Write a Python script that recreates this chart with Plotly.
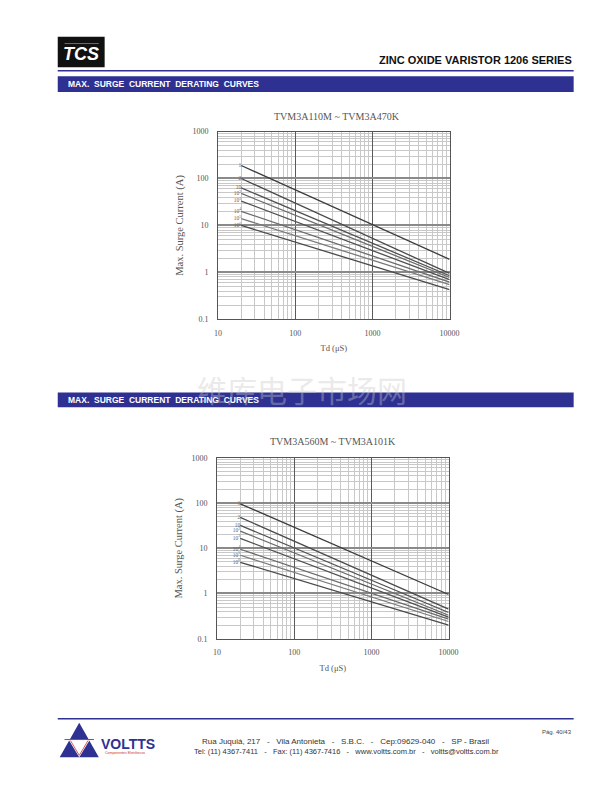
import plotly.graph_objects as go

W, H = 612, 792

# ---------------- data ----------------
TD = [20, 10000]  # pulse duration range (µs)
CURVE_LABELS = ["1", "2", "10", "10<sup>2</sup>", "10<sup>3</sup>",
                "10<sup>4</sup>", "10<sup>5</sup>", "10<sup>6</sup>"]

TOP_TITLE = "TVM3A110M ~ TVM3A470K"
TOP_START = [189, 100, 63, 48, 33, 20, 14, 10]
TOP_END = [1.9, 0.95, 0.85, 0.78, 0.70, 0.62, 0.55, 0.43]

BOT_TITLE = "TVM3A560M ~ TVM3A101K"
BOT_START = [96, 48, 32, 24, 16.5, 9.5, 7.0, 4.9]
BOT_END = [0.95, 0.45, 0.38, 0.33, 0.30, 0.27, 0.24, 0.20]

X_TICKS = [10, 100, 1000, 10000]
X_TICK_TEXT = ["10", "100", "1000", "10000"]
Y_TICKS = [0.1, 1, 10, 100, 1000]
Y_TICK_TEXT = ["0.1", "1", "10", "100", "1000"]

# ---------------- helpers ----------------
def PX(x):
    return x / W


def PY(y):
    return 1 - y / H


def minor_vals(lo_exp, hi_exp):
    out = []
    for e in range(lo_exp, hi_exp):
        for m in range(2, 10):
            out.append(m * 10 ** e)
    return out


SERIF = "Liberation Serif, Times New Roman, serif"
SANS = "Liberation Sans, Arial, sans-serif"
GRAY = "#555555"
BLUE = "#2e3192"

fig = go.Figure()

LINE_COLORS = ["#3c3c3c", "#4a4a4a", "#505050", "#6a6a6a", "#505050",
               "#6a6a6a", "#7a7a7a", "#4a4a4a"]

for (starts, ends, xa, ya) in [(TOP_START, TOP_END, "x", "y"),
                               (BOT_START, BOT_END, "x2", "y2")]:
    for i, lab in enumerate(CURVE_LABELS):
        fig.add_trace(go.Scatter(
            x=TD, y=[starts[i], ends[i]],
            mode="lines+text",
            text=[lab, ""],
            textposition="middle left",
            textfont=dict(family=SERIF, size=5.5, color="#666666"),
            line=dict(color=LINE_COLORS[i], width=1.3),
            xaxis=xa, yaxis=ya, showlegend=False, hoverinfo="skip",
        ))

def xaxis_cfg(domain, anchor):
    return dict(
        type="log", domain=domain, anchor=anchor, range=[1, 4],
        tickvals=X_TICKS, ticktext=X_TICK_TEXT,
        ticks="outside", ticklen=6, tickcolor="rgba(0,0,0,0)",
        tickfont=dict(family=SERIF, size=8, color=GRAY),
        showgrid=True, gridcolor="#5a5a5a", gridwidth=1.1,
        minor=dict(tickvals=minor_vals(1, 4), showgrid=True,
                   gridcolor="#c8c8c8", gridwidth=0.6, ticks=""),
        showline=True, linecolor="#555555", linewidth=1, mirror=True,
        zeroline=False,
        title=dict(text="Td (μS)", font=dict(family=SERIF, size=8.5, color=GRAY),
                   standoff=8),
    )


def yaxis_cfg(domain, anchor):
    return dict(
        type="log", domain=domain, anchor=anchor, range=[-1, 3],
        tickvals=Y_TICKS, ticktext=Y_TICK_TEXT,
        ticks="outside", ticklen=7, tickcolor="rgba(0,0,0,0)",
        tickfont=dict(family=SERIF, size=8, color=GRAY),
        showgrid=True, gridcolor="#8a8a8a", gridwidth=1.8,
        minor=dict(tickvals=minor_vals(-1, 3), showgrid=True,
                   gridcolor="#c8c8c8", gridwidth=0.6, ticks=""),
        showline=True, linecolor="#555555", linewidth=1, mirror=True,
        zeroline=False,
        title=dict(text="Max. Surge Current (A)",
                   font=dict(family=SERIF, size=10.5, color=GRAY), standoff=6),
    )


fig.update_layout(
    width=W, height=H,
    margin=dict(l=0, r=0, t=0, b=0, pad=0),
    paper_bgcolor="white", plot_bgcolor="white",
    xaxis=xaxis_cfg([PX(219), PX(456)], "y"),
    yaxis=yaxis_cfg([PY(319), PY(129)], "x"),
    xaxis2=xaxis_cfg([PX(218), PX(455)], "y2"),
    yaxis2=yaxis_cfg([PY(642), PY(459)], "x2"),
)

shapes = []
ann = []

# header logo (TCS)
shapes.append(dict(type="rect", xref="paper", yref="paper",
                   x0=PX(55), x1=PX(103), y0=PY(64), y1=PY(33),
                   fillcolor="#111111", line=dict(width=0)))
shapes.append(dict(type="line", xref="paper", yref="paper",
                   x0=PX(62), x1=PX(97), y0=PY(40), y1=PY(40),
                   line=dict(color="#d04040", width=1)))
ann.append(dict(text="<b><i>TCS</i></b>", x=PX(79), y=PY(51), xref="paper",
                yref="paper", showarrow=False, xanchor="center", yanchor="middle",
                font=dict(family=SANS, size=18, color="white")))

ann.append(dict(text="<b>ZINC OXIDE VARISTOR 1206 SERIES</b>", x=PX(583), y=PY(57),
                xref="paper", yref="paper", showarrow=False, xanchor="right",
                yanchor="middle", font=dict(family=SANS, size=11, color="#111111")))
shapes.append(dict(type="line", xref="paper", yref="paper",
                   x0=PX(55), x1=PX(583), y0=PY(67.5), y1=PY(67.5),
                   line=dict(color=BLUE, width=1.5)))

# section bars
for (y0, y1) in [(73, 89), (393, 408)]:
    shapes.append(dict(type="rect", xref="paper", yref="paper",
                       x0=PX(55), x1=PX(583), y0=PY(y1), y1=PY(y0),
                       fillcolor=BLUE, line=dict(width=0)))
    ann.append(dict(text="<b>MAX.  SURGE  CURRENT  DERATING  CURVES</b>",
                    x=PX(63), y=PY((y0 + y1) / 2), xref="paper", yref="paper",
                    showarrow=False, xanchor="left", yanchor="middle",
                    font=dict(family=SANS, size=8.5, color="white")))

# chart titles
ann.append(dict(text=TOP_TITLE, x=PX(341), y=PY(114), xref="paper", yref="paper",
                showarrow=False, xanchor="center", yanchor="middle",
                font=dict(family=SERIF, size=10, color=GRAY)))
ann.append(dict(text=BOT_TITLE, x=PX(337), y=PY(443), xref="paper", yref="paper",
                showarrow=False, xanchor="center", yanchor="middle",
                font=dict(family=SERIF, size=10, color=GRAY)))

# watermark
ann.append(dict(text="维库电子市场网", x=PX(305), y=PY(389), xref="paper",
                yref="paper", showarrow=False, xanchor="center", yanchor="middle",
                font=dict(family="Noto Sans CJK SC", size=30,
                          color="rgba(200,200,200,0.4)")))

# footer
shapes.append(dict(type="line", xref="paper", yref="paper",
                   x0=PX(55), x1=PX(583), y0=PY(723), y1=PY(723),
                   line=dict(color=BLUE, width=1.5)))
# VOLTTS logo
shapes.append(dict(type="path", xref="paper", yref="paper",
                   path=f"M {PX(57)} {PY(762)} L {PX(77)} {PY(727)} L {PX(97)} {PY(762)} Z",
                   fillcolor=BLUE, line=dict(width=0)))
shapes.append(dict(type="path", xref="paper", yref="paper",
                   path=f"M {PX(66)} {PY(744)} L {PX(77)} {PY(762)} L {PX(88)} {PY(744)} Z",
                   fillcolor="white", line=dict(width=0)))
shapes.append(dict(type="line", xref="paper", yref="paper",
                   x0=PX(62), x1=PX(92), y0=PY(744), y1=PY(744),
                   line=dict(color="#d03030", width=1)))
shapes.append(dict(type="path", xref="paper", yref="paper",
                   path=f"M {PX(68)} {PY(745)} L {PX(77)} {PY(760)} L {PX(86)} {PY(745)}",
                   line=dict(color="#d03030", width=0.8)))
ann.append(dict(text="<b>VOLTTS</b>", x=PX(97), y=PY(748), xref="paper", yref="paper",
                showarrow=False, xanchor="left", yanchor="middle",
                font=dict(family=SANS, size=14, color=BLUE)))
ann.append(dict(text="Componentes Eletrônicos", x=PX(101), y=PY(758), xref="paper",
                yref="paper", showarrow=False, xanchor="left", yanchor="middle",
                font=dict(family=SANS, size=3.5, color="#d03030")))

SP = "\u00a0" * 3
ann.append(dict(text=f"Rua Juquiá, 217{SP}-{SP}Vila Antonieta{SP}-{SP}S.B.C.{SP}-{SP}Cep:09629-040{SP}-{SP}SP - Brasil",
                x=PX(350), y=PY(746), xref="paper", yref="paper", showarrow=False,
                xanchor="center", yanchor="middle",
                font=dict(family=SANS, size=8, color="#333333")))
ann.append(dict(text=f"Tel: (11) 4367-7411{SP}-{SP}Fax: (11) 4367-7416{SP}-{SP}www.voltts.com.br{SP}-{SP}voltts@voltts.com.br",
                x=PX(351), y=PY(756), xref="paper", yref="paper", showarrow=False,
                xanchor="center", yanchor="middle",
                font=dict(family=SANS, size=7.5, color="#333333")))
ann.append(dict(text="Pág. 40/43", x=PX(583), y=PY(736), xref="paper", yref="paper",
                showarrow=False, xanchor="right", yanchor="middle",
                font=dict(family=SANS, size=6, color="#444444")))

fig.update_layout(shapes=shapes, annotations=ann)

fig.write_html(
    "out.html",
    config={"displayModeBar": False},
    post_script=(
        "document.body.style.margin='0';document.body.style.padding='0';"
        "document.documentElement.style.overflow='hidden';"
    ),
)
